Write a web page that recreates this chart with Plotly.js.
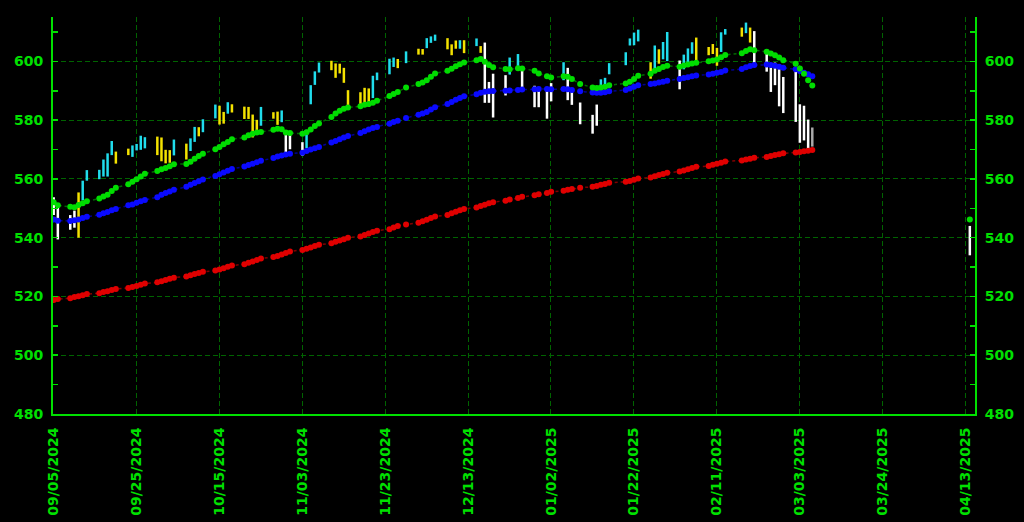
<!DOCTYPE html>
<html>
<head>
<meta charset="utf-8">
<script src="https://cdn.plot.ly/plotly-3.0.1.min.js"></script>
<style>
html,body{margin:0;padding:0;background:#000;}
#chart{width:1024px;height:522px;}
</style>
</head>
<body>
<div id="chart"></div>
<script>
// ---- trading days ----
const dates = [
 '2024-09-05','2024-09-06','2024-09-09','2024-09-10','2024-09-11','2024-09-12','2024-09-13','2024-09-16','2024-09-17','2024-09-18','2024-09-19','2024-09-20','2024-09-23','2024-09-24','2024-09-25','2024-09-26','2024-09-27','2024-09-30',
 '2024-10-01','2024-10-02','2024-10-03','2024-10-04','2024-10-07','2024-10-08','2024-10-09','2024-10-10','2024-10-11','2024-10-14','2024-10-15','2024-10-16','2024-10-17','2024-10-18','2024-10-21','2024-10-22','2024-10-23','2024-10-24','2024-10-25','2024-10-28','2024-10-29','2024-10-30','2024-10-31',
 '2024-11-01','2024-11-04','2024-11-05','2024-11-06','2024-11-07','2024-11-08','2024-11-11','2024-11-12','2024-11-13','2024-11-14','2024-11-15','2024-11-18','2024-11-19','2024-11-20','2024-11-21','2024-11-22','2024-11-25','2024-11-26','2024-11-27','2024-11-29',
 '2024-12-02','2024-12-03','2024-12-04','2024-12-05','2024-12-06','2024-12-09','2024-12-10','2024-12-11','2024-12-12','2024-12-13','2024-12-16','2024-12-17','2024-12-18','2024-12-19','2024-12-20','2024-12-23','2024-12-24','2024-12-26','2024-12-27','2024-12-30','2024-12-31',
 '2025-01-02','2025-01-03','2025-01-06','2025-01-07','2025-01-08','2025-01-10','2025-01-13','2025-01-14','2025-01-15','2025-01-16','2025-01-17','2025-01-21','2025-01-22','2025-01-23','2025-01-24','2025-01-27','2025-01-28','2025-01-29','2025-01-30','2025-01-31',
 '2025-02-03','2025-02-04','2025-02-05','2025-02-06','2025-02-07','2025-02-10','2025-02-11','2025-02-12','2025-02-13','2025-02-14','2025-02-18','2025-02-19','2025-02-20','2025-02-21','2025-02-24','2025-02-25','2025-02-26','2025-02-27','2025-02-28',
 '2025-03-03','2025-03-04','2025-03-05','2025-03-06','2025-03-07'
];
const openPx = [
 550.9,549.9,544.6,548.4,548.7,555.0,559.7,561.7,565.1,563.7,571.0,567.8,569.3,571.0,571.1,574.4,573.4,570.4,
 573.4,567.7,567.4,572.4,571.3,570.4,573.2,575.8,576.0,581.2,584.6,579.8,585.9,584.1,583.9,581.0,581.3,579.9,581.5,582.6,579.9,581.3,575.6,
 571.3,571.2,570.7,589.2,592.8,596.2,599.8,598.7,597.4,597.3,589.7,586.2,584.7,590.4,593.4,593.7,599.5,598.8,600.5,599.7,
 603.0,603.4,605.6,607.7,607.4,607.7,605.4,605.8,606.1,606.4,606.0,604.2,604.0,591.4,581.8,590.9,596.1,599.5,597.5,587.9,589.9,
 589.4,587.5,596.3,597.4,588.7,585.9,575.8,584.4,590.3,594.2,597.0,600.7,605.9,605.8,609.8,594.8,600.6,603.7,604.0,607.5,
 592.7,597.8,600.6,606.0,606.9,604.0,602.6,599.2,604.5,609.9,610.9,610.1,611.5,610.2,602.0,597.2,595.9,596.9,585.6,
 596.2,579.7,576.7,575.5,574.0
];
const highPx = [
 553.8,551.6,547.7,549.2,555.4,559.4,563.0,563.1,566.6,568.7,572.9,569.3,570.3,571.4,571.9,574.7,574.2,574.4,
 574.1,569.9,569.8,573.4,572.0,573.8,577.7,577.6,580.3,585.3,584.9,582.8,586.1,585.4,584.6,584.5,581.9,580.1,584.5,582.7,582.9,583.3,575.6,
 575.6,572.5,576.7,591.9,596.6,599.6,600.2,599.3,599.2,597.8,590.2,589.5,591.0,590.8,595.1,596.2,600.9,601.3,600.8,603.4,
 604.3,604.2,607.9,608.5,609.1,607.9,605.8,607.1,607.2,607.2,607.8,605.2,606.4,593.0,595.8,595.3,601.3,602.5,597.8,591.7,590.6,
 591.1,592.6,599.7,597.8,590.6,586.0,581.8,585.3,593.9,594.4,599.4,603.1,607.8,609.8,610.8,599.7,605.4,604.1,606.6,610.0,
 600.3,602.3,604.4,606.5,608.1,604.9,605.9,604.6,609.9,611.0,611.5,613.2,611.5,610.3,603.0,597.9,599.6,598.0,594.7,
 597.3,585.4,584.9,580.2,577.5
];
const lowPx = [
 547.7,539.4,542.7,543.4,540.0,552.7,559.4,559.9,560.8,560.8,568.1,565.2,568.1,567.5,569.7,569.9,570.4,568.1,
 566.0,565.3,565.5,568.0,566.6,569.5,572.6,574.5,575.9,580.6,578.5,578.8,582.2,582.6,580.4,580.4,574.1,576.6,578.1,580.5,578.4,579.3,568.4,
 570.1,567.9,570.5,585.4,592.0,596.2,597.0,594.4,595.9,592.7,583.9,585.3,584.6,584.6,587.5,593.6,595.6,598.1,597.7,599.4,
 602.3,602.3,604.5,606.3,607.0,604.1,602.1,604.3,604.3,602.8,605.2,602.9,585.9,585.9,580.9,588.4,595.5,598.1,590.8,584.4,584.4,
 580.5,586.4,593.6,586.8,585.2,578.6,575.4,578.1,589.2,590.9,595.6,598.7,605.4,605.5,606.8,594.1,597.4,599.2,600.7,600.1,
 590.5,597.3,598.5,602.6,600.1,602.1,602.5,598.5,603.2,609.1,608.4,609.6,606.4,599.5,596.5,589.6,591.9,584.7,582.4,
 579.4,572.3,573.1,570.1,571.0
];
const closePx = [
 549.6,540.4,546.4,548.8,554.4,559.1,562.0,562.8,563.1,561.4,571.0,568.3,569.7,571.3,570.0,572.3,571.5,573.8,
 568.6,568.9,567.8,573.0,567.8,573.2,577.1,576.1,579.6,584.3,579.8,582.3,582.4,584.6,583.6,583.3,578.0,579.2,579.0,580.8,581.8,580.0,568.6,
 571.0,569.8,576.7,591.0,595.6,598.2,598.8,596.9,597.2,593.4,585.8,588.2,590.3,590.5,593.7,595.5,597.5,600.7,598.8,602.6,
 603.6,603.9,607.7,606.7,607.8,604.7,602.8,607.5,604.3,604.2,606.8,604.3,586.3,586.1,591.2,594.7,601.3,601.3,595.0,588.2,586.1,
 584.6,592.0,595.4,588.6,589.5,580.5,581.4,582.2,592.8,591.6,597.6,603.1,606.4,609.8,608.0,599.4,604.5,601.8,605.0,601.8,
 597.8,601.8,604.2,606.3,600.8,604.9,605.3,603.4,609.7,609.7,611.5,612.9,610.4,599.9,597.2,594.2,594.5,585.1,594.2,
 583.8,576.9,583.1,572.7,576.0
];
// bar colour code: C = cyan, Y = yellow, W = white, G = grey (unfinished bar)
const barColour = [
 'W','W','W','W','Y','C','C','C','C','C','C','Y','Y','C','C','C','C','Y',
 'Y','Y','Y','C','Y','C','C','Y','C','C','Y','Y','C','Y','Y','Y','Y','Y','C','Y','Y','C','W',
 'W','W','C','C','C','C','Y','Y','Y','Y','Y','Y','Y','Y','C','C','C','C','Y','C',
 'Y','Y','C','C','C','Y','Y','Y','C','Y','C','Y','W','W','W','W','C','C','W','W','W',
 'W','W','C','W','W','W','W','W','C','C','C','C','C','C','C','Y','C','Y','C','C',
 'W','C','C','C','Y','Y','Y','Y','C','C','Y','C','Y','W','W','W','W','W','W',
 'W','W','W','W','G'
];
const greenAvg = [
 552.1,551.0,550.5,550.4,551.1,551.7,552.4,553.3,554.0,554.6,555.9,557.0,558.2,559.0,559.9,560.8,561.8,562.7,
 563.3,563.7,564.3,565.0,565.1,565.8,566.9,567.8,568.6,570.1,570.9,571.8,572.6,573.5,574.1,574.9,575.4,575.8,576.0,576.7,577.1,576.9,575.8,
 575.6,575.4,575.9,576.8,578.0,578.9,581.1,582.3,583.2,583.9,584.3,584.7,585.2,585.5,585.9,586.6,588.2,588.9,589.6,591.1,
 592.3,592.8,593.6,594.8,595.9,596.8,597.5,598.3,599.0,599.6,600.4,600.8,599.9,598.8,598.0,597.4,597.3,597.7,597.6,596.8,595.9,
 594.9,594.5,594.9,594.8,594.0,592.3,591.1,590.9,591.1,591.4,591.9,592.5,593.1,594.0,595.1,595.8,596.8,597.4,598.1,598.5,
 598.2,598.6,598.9,599.3,599.5,600.0,600.3,600.6,601.4,602.2,602.8,603.5,604.1,603.8,603.3,602.7,602.1,601.3,600.4,
 599.2,597.6,595.8,593.6,591.8
];
const blueAvg = [
 546.2,545.8,545.7,545.9,546.2,546.7,547.1,547.8,548.3,548.7,549.3,549.8,551.0,551.3,551.9,552.4,552.8,553.8,
 554.6,555.2,555.7,556.3,557.3,558.0,558.6,559.2,559.8,561.0,561.6,562.2,562.8,563.4,564.2,564.7,565.2,565.7,566.2,567.1,567.6,568.0,568.3,
 568.6,568.9,569.5,570.0,570.4,570.9,572.4,572.9,573.5,574.1,574.6,575.6,576.2,576.8,577.3,577.7,578.8,579.4,579.8,580.7,
 581.8,582.3,582.8,583.6,584.4,585.5,586.2,586.9,587.5,588.1,588.8,589.3,589.7,589.8,589.9,590.0,590.1,590.3,590.4,590.5,590.6,
 590.6,590.5,590.6,590.5,590.3,589.8,589.4,589.3,589.3,589.5,589.8,590.3,590.8,591.4,591.9,592.3,592.5,592.8,593.1,593.4,
 594.0,594.3,594.6,594.9,595.2,595.5,595.8,596.1,596.4,596.9,597.4,598.0,598.4,598.8,598.9,598.8,598.5,598.2,597.8,
 597.3,596.7,596.1,595.6,594.9
];
const redAvg = [
 518.8,519.1,519.4,519.8,520.1,520.4,520.8,521.1,521.5,521.8,522.2,522.5,522.9,523.2,523.6,524.0,524.4,524.8,
 525.2,525.6,526.0,526.4,526.8,527.2,527.6,528.0,528.4,528.8,529.2,529.6,530.1,530.5,531.0,531.5,531.9,532.4,532.9,533.4,533.8,534.3,534.8,
 535.3,535.8,536.2,536.7,537.2,537.6,538.1,538.6,539.0,539.5,540.0,540.4,540.9,541.4,541.9,542.4,542.9,543.5,544.0,544.5,
 545.1,545.6,546.1,546.7,547.2,547.7,548.3,548.8,549.3,549.8,550.3,550.8,551.2,551.7,552.1,552.6,553.0,553.5,553.9,554.4,554.8,
 555.2,555.6,556.0,556.3,556.6,557.0,557.3,557.6,558.0,558.3,558.7,559.0,559.3,559.7,560.1,560.5,560.9,561.3,561.7,562.1,
 562.5,562.9,563.3,563.7,564.1,564.4,564.8,565.2,565.5,565.9,566.3,566.6,566.9,567.2,567.5,567.8,568.1,568.4,568.7,
 569.0,569.2,569.4,569.6,569.8
];
// isolated last bar at the right edge
const tailDate = ['2025-04-14'];
const tailOpen = [541.0];
const tailHigh = [544.0];
const tailLow = [534.0];
const tailClose = [539.5];
const tailGreen = [546.2];

// axis ticks
const tickDates = ['2024-09-05','2024-09-25','2024-10-15','2024-11-03 23:00','2024-11-23 23:00','2024-12-13 23:00',
 '2025-01-02 23:00','2025-01-22 23:00','2025-02-11 23:00','2025-03-03 23:00','2025-03-24','2025-04-13'];
const tickLabels = ['09/05/2024','09/25/2024','10/15/2024','11/03/2024','11/23/2024','12/13/2024',
 '01/02/2025','01/22/2025','02/11/2025','03/03/2025','03/24/2025','04/13/2025'];

// ---- styling ----
const GREEN = '#00e000';
const GRID = '#006400';
const barColours = {C:'#20dcec', Y:'#f4e200', W:'#ffffff', G:'#a9a9a9'};

function barTrace(code){
  const idx = [];
  barColour.forEach((c,i)=>{ if(c===code) idx.push(i); });
  const t = {
    type:'ohlc',
    x: idx.map(i=>dates[i]),
    open: idx.map(i=>openPx[i]),
    high: idx.map(i=>highPx[i]),
    low: idx.map(i=>lowPx[i]),
    close: idx.map(i=>closePx[i]),
    increasing:{line:{color:barColours[code], width:2.5}},
    decreasing:{line:{color:barColours[code], width:2.5}},
    tickwidth:0.5,
    hoverinfo:'skip',
    showlegend:false
  };
  if(code==='W'){
    t.x = t.x.concat(tailDate);
    t.open = t.open.concat(tailOpen);
    t.high = t.high.concat(tailHigh);
    t.low = t.low.concat(tailLow);
    t.close = t.close.concat(tailClose);
  }
  return t;
}

function maTrace(y, mColor, lColor, axis){
  return {
    type:'scatter', mode:'lines+markers', x:dates, y:y, yaxis:axis||'y',
    marker:{color:mColor, size:6, line:{width:0}},
    line:{color:lColor, width:1.5, dash:'dot'},
    hoverinfo:'skip', showlegend:false
  };
}

const traces = [
  barTrace('W'), barTrace('Y'), barTrace('C'), barTrace('G'),
  maTrace(redAvg, '#e00000', '#800000', 'y2'),
  maTrace(blueAvg, '#0a0aff', '#000090'),
  maTrace(greenAvg, '#00dd00', '#006a00'),
  {type:'scatter', mode:'markers', x:tailDate, y:tailGreen, marker:{color:'#00dd00', size:6}, hoverinfo:'skip', showlegend:false}
];

const tickFont = {family:'DejaVu Sans', size:14, color:GREEN, weight:'bold'};
const yCommon = {
  range:[480, 615.1], tick0:480, dtick:20, ticks:'inside', ticklen:5, tickwidth:1.5, tickcolor:GREEN,
  minor:{dtick:10, ticks:'inside', ticklen:5, tickcolor:GREEN, showgrid:false},
  showline:true, linecolor:GREEN, linewidth:2, zeroline:false,
  tickfont:tickFont, ticklabelstandoff:5, fixedrange:true
};

const layout = {
  width:1024, height:522,
  paper_bgcolor:'#000', plot_bgcolor:'#000',
  margin:{l:53, r:49, t:17, b:108},
  showlegend:false, hovermode:false,
  xaxis:{
    type:'date', range:['2024-09-04 20:00','2025-04-15 06:00'],
    tickvals:tickDates, ticktext:tickLabels, tickangle:-90,
    tickfont:tickFont, ticks:'', ticklabelstandoff:6,
    showgrid:true, gridcolor:GRID, gridwidth:1, griddash:'5px,3px',
    showline:true, linecolor:GREEN, linewidth:2, zeroline:false,
    rangeslider:{visible:false}, fixedrange:true
  },
  yaxis:Object.assign({}, yCommon, {side:'left', showgrid:true, gridcolor:GRID, gridwidth:1, griddash:'5px,3px'}),
  yaxis2:Object.assign({}, yCommon, {side:'right', overlaying:'y', showgrid:false})
};

Plotly.newPlot('chart', traces, layout, {displayModeBar:false, staticPlot:true});
</script>
</body>
</html>
